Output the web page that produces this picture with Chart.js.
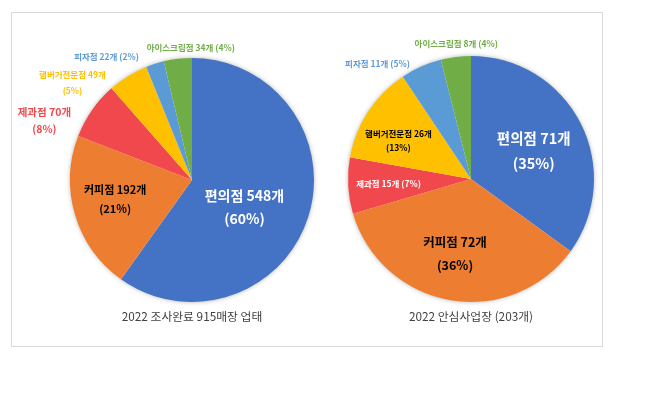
<!DOCTYPE html>
<html>
<head>
<meta charset="utf-8">
<script src="https://cdn.jsdelivr.net/npm/chart.js@4.4.1/dist/chart.umd.min.js"></script>
<style>
  html, body { margin: 0; padding: 0; background: #fff; }
  #wrap { position: relative; width: 656px; height: 399px; }
  #frame { position: absolute; left: 11px; top: 12px; width: 590px; height: 333px; border: 1px solid #d9d9d9; }
  #leftChart { position: absolute; left: 0; top: 0; }
  #rightChart { position: absolute; left: 330px; top: 0; }
</style>
</head>
<body>
<div id="wrap">
  <div id="frame"></div>
  <canvas id="leftChart" width="330" height="399"></canvas>
  <canvas id="rightChart" width="326" height="399"></canvas>
</div>
<script>
const categories = ['편의점', '커피점', '제과점', '햄버거전문점', '피자점', '아이스크림점'];
const colors = ['#4472C4', '#ED7D31', '#F0484C', '#FFC000', '#5B9BD5', '#70AD47'];

const leftCounts = [548, 192, 70, 49, 22, 34];
const leftPercents = [60, 21, 8, 5, 2, 4];
const leftTitle = '2022 조사완료 915매장 업태';

const rightCounts = [71, 72, 15, 26, 11, 8];
const rightPercents = [35, 36, 7, 13, 5, 4];
const rightTitle = '2022 안심사업장 (203개)';

const FONT = "'Noto Sans CJK KR', 'Noto Sans', sans-serif";

// label placement, in units of the pie radius from its centre
const leftLabelStyle = [
  { dx: 0.43, dy: 0.22, color: '#fff', size: 14, gap: 23, two: true },
  { dx: -0.63, dy: 0.16, color: '#000', size: 11, gap: 19, two: true },
  { dx: -1.21, dy: -0.49, color: '#F0484C', size: 10.5, gap: 17, two: true },
  { dx: -0.98, dy: -0.80, color: '#FFC000', size: 8.5, gap: 16, two: true },
  { dx: -0.70, dy: -1.01, color: '#5B9BD5', size: 8.5, two: false },
  { dx: -0.01, dy: -1.08, color: '#70AD47', size: 8.5, two: false },
];
const rightLabelStyle = [
  { dx: 0.51, dy: -0.23, color: '#fff', size: 14.5, gap: 25, two: true },
  { dx: -0.13, dy: 0.61, color: '#000', size: 12.5, gap: 23, two: true },
  { dx: -0.67, dy: 0.04, color: '#fff', size: 8.5, two: false },
  { dx: -0.59, dy: -0.31, color: '#000', size: 8.5, gap: 14, two: true },
  { dx: -0.76, dy: -0.94, color: '#5B9BD5', size: 8.5, two: false },
  { dx: -0.12, dy: -1.10, color: '#70AD47', size: 8.5, two: false },
];

const pieDecor = {
  id: 'pieDecor',
  beforeDatasetsDraw(chart) {
    const arc = chart.getDatasetMeta(0).data[0];
    if (!arc) return;
    const ctx = chart.ctx;
    ctx.save();
    ctx.shadowColor = 'rgba(0,0,0,0.35)';
    ctx.shadowBlur = 5;
    ctx.fillStyle = '#fff';
    ctx.beginPath();
    ctx.arc(arc.x, arc.y, arc.outerRadius - 0.5, 0, Math.PI * 2);
    ctx.fill();
    ctx.restore();
  },
  afterDatasetsDraw(chart, args, opts) {
    const meta = chart.getDatasetMeta(0);
    const ctx = chart.ctx;
    const first = meta.data[0];
    const r = first.outerRadius;
    ctx.save();
    ctx.textAlign = 'center';
    ctx.textBaseline = 'middle';
    meta.data.forEach((arc, i) => {
      const s = opts.styles[i];
      const cx = arc.x + s.dx * r;
      const cy = arc.y + s.dy * r;
      const name = `${opts.labels[i]} ${opts.counts[i]}개`;
      const pct = `(${opts.percents[i]}%)`;
      ctx.fillStyle = s.color;
      ctx.font = `bold ${s.size}px ${FONT}`;
      if (s.two) {
        ctx.fillText(name, cx, cy - s.gap / 2);
        ctx.fillText(pct, cx, cy + s.gap / 2);
      } else {
        ctx.fillText(name + ' ' + pct, cx, cy);
      }
    });
    ctx.fillStyle = '#404040';
    ctx.font = `11.8px ${FONT}`;
    ctx.fillText(opts.title, first.x, first.y + r + 15);
    ctx.restore();
  },
};

function renderPie(canvasId, counts, percents, title, styles, padding) {
  const canvas = document.getElementById(canvasId);
  return new Chart(canvas.getContext('2d'), {
    type: 'pie',
    data: {
      labels: categories,
      datasets: [{
        data: counts,
        backgroundColor: colors,
        borderWidth: 0,
      }],
    },
    options: {
      responsive: false,
      animation: false,
      layout: { padding },
      plugins: {
        legend: { display: false },
        tooltip: { enabled: false },
        pieDecor: { styles, labels: categories, counts, percents, title },
      },
    },
    plugins: [pieDecor],
  });
}

renderPie('leftChart', leftCounts, leftPercents, leftTitle, leftLabelStyle,
  { left: 70, right: 16, top: 58, bottom: 97 });
renderPie('rightChart', rightCounts, rightPercents, rightTitle, rightLabelStyle,
  { left: 18, right: 62, top: 56, bottom: 97 });
</script>
</body>
</html>
